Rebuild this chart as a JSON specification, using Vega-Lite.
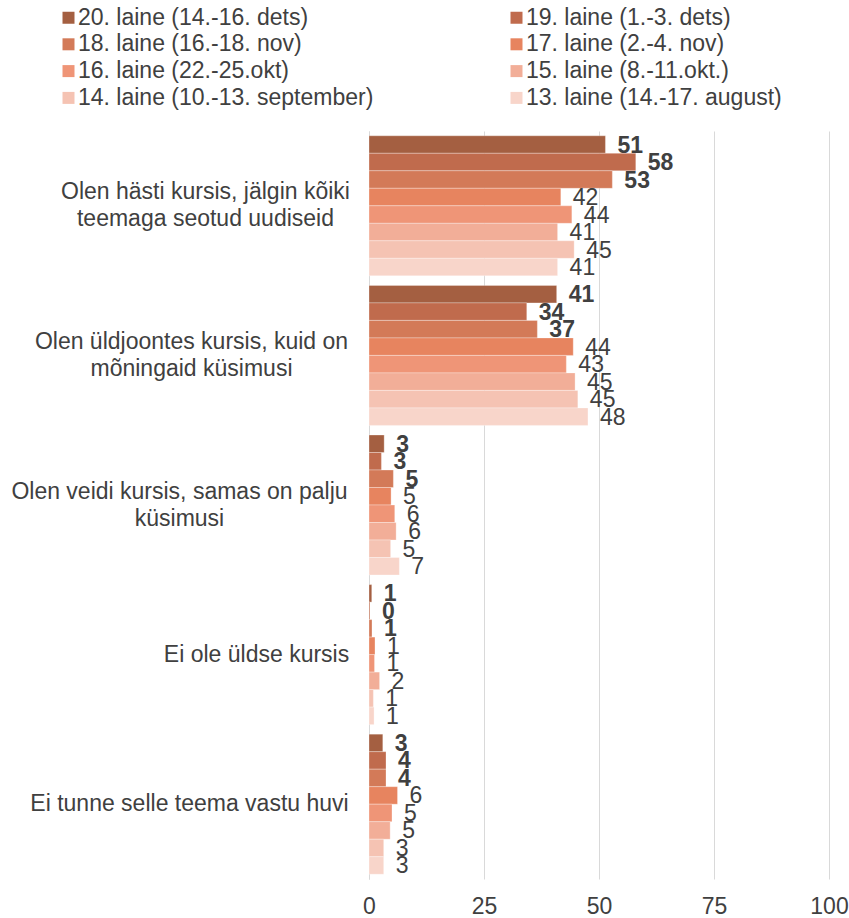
{
  "$schema": "https://vega.github.io/schema/vega-lite/v6.json",
  "width": 460,
  "height": 748,
  "autosize": {"type": "none"},
  "padding": {"left": 369, "top": 131, "right": 20, "bottom": 39},
  "config": {"font": "Liberation Sans", "view": {"stroke": null}},
  "data": {"values": [
    {"category": "Olen hästi kursis, jälgin kõiki teemaga seotud uudiseid", "wave": "20. laine (14.-16. dets)", "value": 51.4},
    {"category": "Olen hästi kursis, jälgin kõiki teemaga seotud uudiseid", "wave": "19. laine (1.-3. dets)", "value": 58.0},
    {"category": "Olen hästi kursis, jälgin kõiki teemaga seotud uudiseid", "wave": "18. laine (16.-18. nov)", "value": 52.9},
    {"category": "Olen hästi kursis, jälgin kõiki teemaga seotud uudiseid", "wave": "17. laine (2.-4. nov)", "value": 41.7},
    {"category": "Olen hästi kursis, jälgin kõiki teemaga seotud uudiseid", "wave": "16. laine (22.-25.okt)", "value": 44.1},
    {"category": "Olen hästi kursis, jälgin kõiki teemaga seotud uudiseid", "wave": "15. laine (8.-11.okt.)", "value": 41.0},
    {"category": "Olen hästi kursis, jälgin kõiki teemaga seotud uudiseid", "wave": "14. laine (10.-13. september)", "value": 44.6},
    {"category": "Olen hästi kursis, jälgin kõiki teemaga seotud uudiseid", "wave": "13. laine (14.-17. august)", "value": 41.0},
    {"category": "Olen üldjoontes kursis, kuid on mõningaid küsimusi", "wave": "20. laine (14.-16. dets)", "value": 40.8},
    {"category": "Olen üldjoontes kursis, kuid on mõningaid küsimusi", "wave": "19. laine (1.-3. dets)", "value": 34.3},
    {"category": "Olen üldjoontes kursis, kuid on mõningaid küsimusi", "wave": "18. laine (16.-18. nov)", "value": 36.6},
    {"category": "Olen üldjoontes kursis, kuid on mõningaid küsimusi", "wave": "17. laine (2.-4. nov)", "value": 44.4},
    {"category": "Olen üldjoontes kursis, kuid on mõningaid küsimusi", "wave": "16. laine (22.-25.okt)", "value": 42.9},
    {"category": "Olen üldjoontes kursis, kuid on mõningaid küsimusi", "wave": "15. laine (8.-11.okt.)", "value": 44.8},
    {"category": "Olen üldjoontes kursis, kuid on mõningaid küsimusi", "wave": "14. laine (10.-13. september)", "value": 45.4},
    {"category": "Olen üldjoontes kursis, kuid on mõningaid küsimusi", "wave": "13. laine (14.-17. august)", "value": 47.6},
    {"category": "Olen veidi kursis, samas on palju küsimusi", "wave": "20. laine (14.-16. dets)", "value": 3.3},
    {"category": "Olen veidi kursis, samas on palju küsimusi", "wave": "19. laine (1.-3. dets)", "value": 2.7},
    {"category": "Olen veidi kursis, samas on palju küsimusi", "wave": "18. laine (16.-18. nov)", "value": 5.3},
    {"category": "Olen veidi kursis, samas on palju küsimusi", "wave": "17. laine (2.-4. nov)", "value": 4.8},
    {"category": "Olen veidi kursis, samas on palju küsimusi", "wave": "16. laine (22.-25.okt)", "value": 5.6},
    {"category": "Olen veidi kursis, samas on palju küsimusi", "wave": "15. laine (8.-11.okt.)", "value": 5.9},
    {"category": "Olen veidi kursis, samas on palju küsimusi", "wave": "14. laine (10.-13. september)", "value": 4.7},
    {"category": "Olen veidi kursis, samas on palju küsimusi", "wave": "13. laine (14.-17. august)", "value": 6.6},
    {"category": "Ei ole üldse kursis", "wave": "20. laine (14.-16. dets)", "value": 0.6},
    {"category": "Ei ole üldse kursis", "wave": "19. laine (1.-3. dets)", "value": 0.2},
    {"category": "Ei ole üldse kursis", "wave": "18. laine (16.-18. nov)", "value": 0.65},
    {"category": "Ei ole üldse kursis", "wave": "17. laine (2.-4. nov)", "value": 1.3},
    {"category": "Ei ole üldse kursis", "wave": "16. laine (22.-25.okt)", "value": 1.2},
    {"category": "Ei ole üldse kursis", "wave": "15. laine (8.-11.okt.)", "value": 2.3},
    {"category": "Ei ole üldse kursis", "wave": "14. laine (10.-13. september)", "value": 0.95},
    {"category": "Ei ole üldse kursis", "wave": "13. laine (14.-17. august)", "value": 1.1},
    {"category": "Ei tunne selle teema vastu huvi", "wave": "20. laine (14.-16. dets)", "value": 3.0},
    {"category": "Ei tunne selle teema vastu huvi", "wave": "19. laine (1.-3. dets)", "value": 3.7},
    {"category": "Ei tunne selle teema vastu huvi", "wave": "18. laine (16.-18. nov)", "value": 3.7},
    {"category": "Ei tunne selle teema vastu huvi", "wave": "17. laine (2.-4. nov)", "value": 6.2},
    {"category": "Ei tunne selle teema vastu huvi", "wave": "16. laine (22.-25.okt)", "value": 5.0},
    {"category": "Ei tunne selle teema vastu huvi", "wave": "15. laine (8.-11.okt.)", "value": 4.6},
    {"category": "Ei tunne selle teema vastu huvi", "wave": "14. laine (10.-13. september)", "value": 3.2},
    {"category": "Ei tunne selle teema vastu huvi", "wave": "13. laine (14.-17. august)", "value": 3.2}
  ]},
  "encoding": {
    "y": {
      "field": "category", "type": "nominal",
      "sort": ["Olen hästi kursis, jälgin kõiki teemaga seotud uudiseid", "Olen üldjoontes kursis, kuid on mõningaid küsimusi", "Olen veidi kursis, samas on palju küsimusi", "Ei ole üldse kursis", "Ei tunne selle teema vastu huvi"],
      "scale": {"paddingInner": 0.064, "paddingOuter": 0.032},
      "axis": {
        "title": null, "ticks": false, "grid": false, "domainColor": "#D9D9D9", "domainWidth": 1,
        "labelFontSize": 23, "labelColor": "#404040", "labelLimit": 400, "labelLineHeight": 27,
        "labelAlign": "center",
        "labelPadding": {"condition": [
          {"test": "datum.value == 'Olen hästi kursis, jälgin kõiki teemaga seotud uudiseid'", "value": 164},
          {"test": "datum.value == 'Olen üldjoontes kursis, kuid on mõningaid küsimusi'", "value": 178},
          {"test": "datum.value == 'Olen veidi kursis, samas on palju küsimusi'", "value": 190},
          {"test": "datum.value == 'Ei ole üldse kursis'", "value": 113}
        ], "value": 180},
        "labelOffset": {"condition": {"test": "datum.value == 'Ei ole üldse kursis' || datum.value == 'Ei tunne selle teema vastu huvi'", "value": 0}, "value": -13.5},
        "labelExpr": "datum.value == 'Olen hästi kursis, jälgin kõiki teemaga seotud uudiseid' ? ['Olen hästi kursis, jälgin kõiki', 'teemaga seotud uudiseid'] : datum.value == 'Olen üldjoontes kursis, kuid on mõningaid küsimusi' ? ['Olen üldjoontes kursis, kuid on', 'mõningaid küsimusi'] : datum.value == 'Olen veidi kursis, samas on palju küsimusi' ? ['Olen veidi kursis, samas on palju', 'küsimusi'] : datum.value"
      }
    },
    "yOffset": {
      "field": "wave", "type": "nominal",
      "scale": {"domain": ["20. laine (14.-16. dets)", "19. laine (1.-3. dets)", "18. laine (16.-18. nov)", "17. laine (2.-4. nov)", "16. laine (22.-25.okt)", "15. laine (8.-11.okt.)", "14. laine (10.-13. september)", "13. laine (14.-17. august)"], "paddingInner": 0, "paddingOuter": 0}
    },
    "x": {
      "field": "value", "type": "quantitative",
      "scale": {"domain": [0, 100]},
      "axis": {"title": null, "values": [0, 25, 50, 75, 100], "grid": true, "gridColor": "#D9D9D9", "domain": false, "ticks": false, "labelFlush": false, "labelOverlap": false, "labelFontSize": 23, "labelColor": "#404040", "labelPadding": 16}
    }
  },
  "layer": [
    {
      "mark": {"type": "bar", "stroke": "#ffffff", "strokeWidth": 0.6, "strokeOpacity": 0.5},
      "encoding": {
        "color": {
          "field": "wave", "type": "nominal",
          "scale": {
            "domain": ["20. laine (14.-16. dets)", "19. laine (1.-3. dets)", "18. laine (16.-18. nov)", "17. laine (2.-4. nov)", "16. laine (22.-25.okt)", "15. laine (8.-11.okt.)", "14. laine (10.-13. september)", "13. laine (14.-17. august)"],
            "range": ["#A45F41", "#C06B4D", "#D37A58", "#E7845F", "#EF9577", "#F2AE98", "#F5C3B3", "#F8D5CA"]
          },
          "legend": {
            "title": null, "orient": "none", "legendX": -312, "legendY": -125, "columns": 2, "direction": "horizontal",
            "symbolType": "square", "symbolSize": 144, "symbolStrokeWidth": 0, "labelFontSize": 23, "labelColor": "#404040",
            "labelOffset": -2, "rowPadding": 2.8, "columnPadding": 131, "labelLimit": 400
          }
        }
      }
    },
    {
      "transform": [{"filter": {"field": "wave", "oneOf": ["20. laine (14.-16. dets)", "19. laine (1.-3. dets)", "18. laine (16.-18. nov)"]}}],
      "mark": {"type": "text", "align": "left", "baseline": "middle", "dx": 12, "dy": 1, "fontSize": 23, "fontWeight": "bold", "color": "#404040"},
      "encoding": {"text": {"field": "value", "type": "quantitative", "format": ".0f"}}
    },
    {
      "transform": [{"filter": {"not": {"field": "wave", "oneOf": ["20. laine (14.-16. dets)", "19. laine (1.-3. dets)", "18. laine (16.-18. nov)"]}}}],
      "mark": {"type": "text", "align": "left", "baseline": "middle", "dx": 12, "dy": 1, "fontSize": 23, "color": "#404040"},
      "encoding": {"text": {"field": "value", "type": "quantitative", "format": ".0f"}}
    }
  ]
}
